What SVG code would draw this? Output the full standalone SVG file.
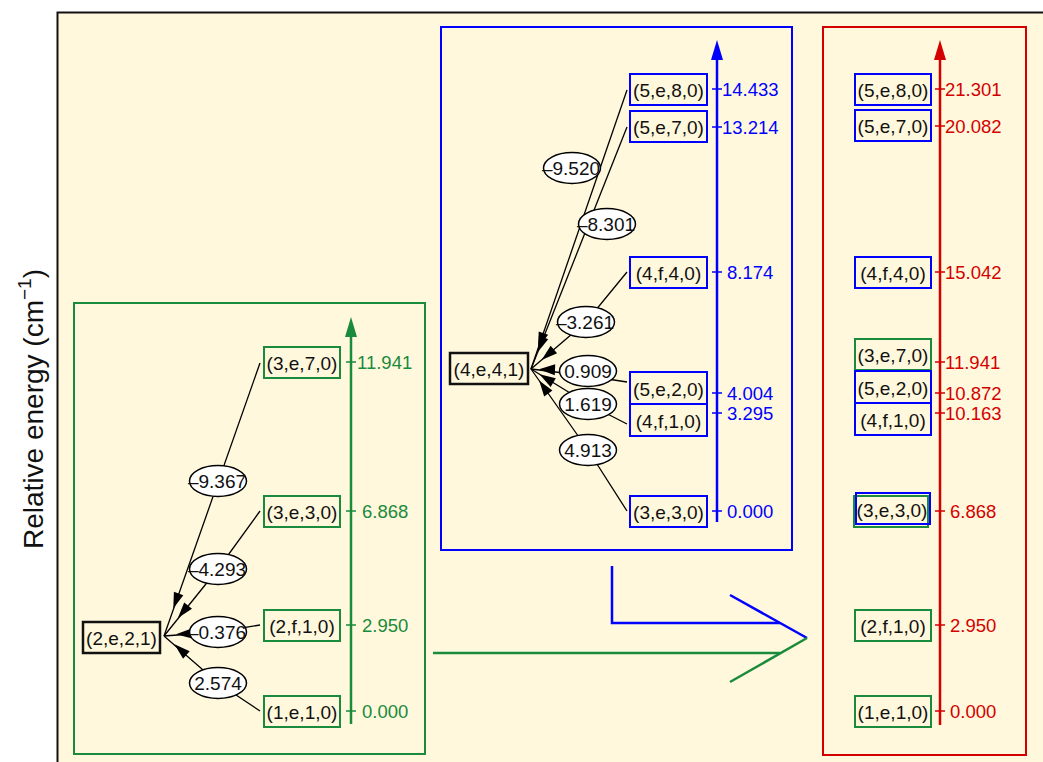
<svg xmlns="http://www.w3.org/2000/svg" width="1043" height="762" viewBox="0 0 1043 762">
<style>
.t{font-family:"Liberation Sans",Arial,Helvetica,sans-serif;font-size:19px;fill:#111;text-anchor:middle}
.tk{font-family:"Liberation Sans",Arial,Helvetica,sans-serif;font-size:18.5px}
.gs{stroke:#1a8a3c}.bs{stroke:#0000ff}.rs{stroke:#d40000}
.box{fill:none;stroke-width:2}
.blk{fill:none;stroke:#111;stroke-width:2.5}
.edge{fill:none;stroke:#000;stroke-width:1.3}
.lab{fill:#fff;stroke:#000;stroke-width:1.5}
.ah{fill:#000;stroke:none}
</style>
<rect x="0" y="0" width="1043" height="762" fill="#fff"/>
<rect x="57.5" y="12.5" width="990" height="760" fill="#fff8dc" stroke="#111" stroke-width="2"/>
<text class="t" style="font-size:28px" transform="translate(43,409) rotate(-90)">Relative energy (cm<tspan dy="-12" style="font-size:19px">−1</tspan><tspan dy="12">)</tspan></text>

<!-- panels -->
<g id="panel-green">
<rect x="74" y="303" width="351" height="451" class="box gs"/>
<line x1="351" y1="724" x2="351" y2="334" class="gs" stroke-width="2.5"/>
<polygon points="351,317 345,337 357,337" fill="#1a8a3c"/>
<g class="gs" stroke-width="1.5">
<line x1="346" y1="362" x2="356" y2="362"/><line x1="346" y1="511" x2="356" y2="511"/>
<line x1="346" y1="625" x2="356" y2="625"/><line x1="346" y1="711" x2="356" y2="711"/>
</g>
<g class="tk" fill="#1a8a3c">
<text x="357" y="368.5">11.941</text><text x="362" y="517.5">6.868</text>
<text x="362" y="631.5">2.950</text><text x="362" y="717.5">0.000</text>
</g>
</g>
<g id="panel-blue">
<rect x="441" y="27" width="351" height="523" class="box bs"/>
<line x1="717" y1="522" x2="717" y2="57" class="bs" stroke-width="2.5"/>
<polygon points="717,40 711,60 723,60" fill="#0000ff"/>
<g class="bs" stroke-width="1.5">
<line x1="712" y1="89" x2="722" y2="89"/><line x1="712" y1="127" x2="722" y2="127"/>
<line x1="712" y1="272" x2="722" y2="272"/><line x1="712" y1="393" x2="722" y2="393"/>
<line x1="712" y1="413" x2="722" y2="413"/><line x1="712" y1="511" x2="722" y2="511"/>
</g>
<g class="tk" fill="#0000ff">
<text x="722" y="95.5">14.433</text><text x="722" y="133.5">13.214</text>
<text x="727" y="278.5">8.174</text><text x="727" y="399.5">4.004</text>
<text x="727" y="419.5">3.295</text><text x="727" y="517.5">0.000</text>
</g>
</g>
<g id="panel-red">
<rect x="823" y="27" width="203" height="728" class="box rs"/>
<line x1="940" y1="725" x2="940" y2="57" class="rs" stroke-width="2.5"/>
<polygon points="940,40 934,60 946,60" fill="#d40000"/>
<g class="rs" stroke-width="1.5">
<line x1="935" y1="89" x2="945" y2="89"/><line x1="935" y1="126" x2="945" y2="126"/>
<line x1="935" y1="272" x2="945" y2="272"/><line x1="935" y1="362" x2="945" y2="362"/>
<line x1="935" y1="393" x2="945" y2="393"/><line x1="935" y1="413" x2="945" y2="413"/>
<line x1="935" y1="511" x2="945" y2="511"/><line x1="935" y1="625" x2="945" y2="625"/>
<line x1="935" y1="711" x2="945" y2="711"/>
</g>
<g class="tk" fill="#d40000">
<text x="945" y="95.5">21.301</text><text x="945" y="132.5">20.082</text>
<text x="945" y="278.5">15.042</text><text x="945" y="368.5">11.941</text>
<text x="945" y="399.5">10.872</text><text x="945" y="419.5">10.163</text>
<text x="950" y="517.5">6.868</text><text x="950" y="631.5">2.950</text>
<text x="950" y="717.5">0.000</text>
</g>
</g>

<!-- connectors -->
<g id="connectors">
<path class="edge" d="M260,363 L164,636"/>
<path class="edge" d="M260,511 L218,569 L164,636"/>
<path class="edge" d="M260,625 L218,632 L164,636"/>
<path class="edge" d="M260,711 L218,683 L164,636"/>
<polygon class="ah" points="173.3,608.6 183.3,595.2 173.9,591.8"/>
<polygon class="ah" points="177.9,618 192,608.8 184.2,602.4"/>
<polygon class="ah" points="176,634.3 192.2,638.5 191.6,628.5"/>
<polygon class="ah" points="174.5,644.3 183.1,658.7 189.7,651.3"/>

<path class="edge" d="M627,90 L531,369"/>
<path class="edge" d="M627,127 L531,369"/>
<path class="edge" d="M627,272 L586,322 L531,369"/>
<path class="edge" d="M627,382 L588,376 L531,369"/>
<path class="edge" d="M627,424 L588,404 L531,369"/>
<path class="edge" d="M627,511 L588,450 L531,369"/>
<polygon class="ah" points="538.2,348.2 548.1,334.7 538.7,331.5"/>
<polygon class="ah" points="537.6,352.3 548.2,339.2 538.9,335.6"/>
<polygon class="ah" points="541.6,359.9 557.1,353.3 550.6,345.7"/>
<polygon class="ah" points="539,369.3 554.8,375.3 555.2,364.3"/>
<polygon class="ah" points="539.5,374.2 550.6,386.9 555.8,378.3"/>
<polygon class="ah" points="539.1,380.5 544.2,396.4 552.4,390.6"/>

<g id="edge-labels">
<ellipse class="lab" cx="218" cy="481" rx="28.5" ry="15.5"/><text class="t" x="217" y="488">–9.367</text>
<ellipse class="lab" cx="218" cy="569" rx="28.5" ry="15.5"/><text class="t" x="217" y="576">–4.293</text>
<ellipse class="lab" cx="218" cy="632" rx="28.5" ry="15.5"/><text class="t" x="217" y="639">–0.376</text>
<ellipse class="lab" cx="218" cy="683" rx="28.5" ry="15.5"/><text class="t" x="218" y="690">2.574</text>
<ellipse class="lab" cx="572" cy="168" rx="28.5" ry="15.5"/><text class="t" x="571" y="175">–9.520</text>
<ellipse class="lab" cx="607" cy="224" rx="28.5" ry="15.5"/><text class="t" x="606" y="231">–8.301</text>
<ellipse class="lab" cx="586" cy="322" rx="28.5" ry="15.5"/><text class="t" x="585" y="329">–3.261</text>
<ellipse class="lab" cx="588" cy="371" rx="28.5" ry="15.5"/><text class="t" x="588" y="378">0.909</text>
<ellipse class="lab" cx="588" cy="404" rx="28.5" ry="15.5"/><text class="t" x="588" y="411">1.619</text>
<ellipse class="lab" cx="588" cy="450" rx="28.5" ry="15.5"/><text class="t" x="588" y="457">4.913</text>
</g>

<g id="transfer-arrows" fill="none" stroke-width="2.5">
<polyline points="612,566 612,623 780,623" stroke="#0000ff"/>
<line x1="730" y1="595" x2="807" y2="638" stroke="#0000ff"/>
<line x1="433" y1="653" x2="780" y2="653" stroke="#1a8a3c"/>
<line x1="807" y1="638" x2="730" y2="682" stroke="#1a8a3c"/>
</g>
</g>

<!-- nodes: left panel -->
<g id="n-2e21"><rect x="83" y="622" width="77" height="31" class="blk"/><text class="t" x="121.5" y="644.5">(2,e,2,1)</text></g>
<g id="L-3e70"><rect x="264" y="347" width="76" height="31" class="box gs"/><text class="t" x="302" y="369.5">(3,e,7,0)</text></g>
<g id="L-3e30"><rect x="264" y="496" width="76" height="31" class="box gs"/><text class="t" x="302" y="518.5">(3,e,3,0)</text></g>
<g id="L-2f10"><rect x="264" y="610" width="76" height="31" class="box gs"/><text class="t" x="302" y="632.5">(2,f,1,0)</text></g>
<g id="L-1e10"><rect x="264" y="696" width="76" height="31" class="box gs"/><text class="t" x="302" y="718.5">(1,e,1,0)</text></g>

<!-- nodes: middle panel -->
<g id="n-4e41"><rect x="450" y="353" width="78" height="31" class="blk"/><text class="t" x="489" y="375.5">(4,e,4,1)</text></g>
<g id="M-5e80"><rect x="630" y="74" width="77" height="31" class="box bs"/><text class="t" x="668.5" y="96.5">(5,e,8,0)</text></g>
<g id="M-5e70"><rect x="630" y="111" width="77" height="31" class="box bs"/><text class="t" x="668.5" y="133.5">(5,e,7,0)</text></g>
<g id="M-4f40"><rect x="630" y="257" width="77" height="31" class="box bs"/><text class="t" x="668.5" y="279.5">(4,f,4,0)</text></g>
<g id="M-5e20"><rect x="630" y="372" width="77" height="32" class="box bs"/><text class="t" x="668.5" y="395.5">(5,e,2,0)</text></g>
<g id="M-4f10"><rect x="630" y="404" width="77" height="32" class="box bs"/><text class="t" x="668.5" y="427.5">(4,f,1,0)</text></g>
<g id="M-3e30"><rect x="630" y="496" width="77" height="31" class="box bs"/><text class="t" x="668.5" y="518.5">(3,e,3,0)</text></g>

<!-- nodes: right panel -->
<g id="R-5e80"><rect x="855" y="74" width="76" height="31" class="box bs"/><text class="t" x="893" y="96.5">(5,e,8,0)</text></g>
<g id="R-5e70"><rect x="855" y="110" width="76" height="31" class="box bs"/><text class="t" x="893" y="132.5">(5,e,7,0)</text></g>
<g id="R-4f40"><rect x="855" y="257" width="76" height="31" class="box bs"/><text class="t" x="893" y="279.5">(4,f,4,0)</text></g>
<g id="R-3e70"><rect x="855" y="339" width="76" height="31" class="box gs"/><text class="t" x="893" y="361.5">(3,e,7,0)</text></g>
<g id="R-5e20"><rect x="855" y="371" width="76" height="32" class="box bs"/><text class="t" x="893" y="394.5">(5,e,2,0)</text></g>
<g id="R-4f10"><rect x="855" y="403" width="76" height="32" class="box bs"/><text class="t" x="893" y="426.5">(4,f,1,0)</text></g>
<g id="R-3e30"><rect x="854" y="496" width="74" height="31" class="box gs"/><rect x="856" y="493" width="74" height="31" class="box bs"/><text class="t" x="892" y="517">(3,e,3,0)</text></g>
<g id="R-2f10"><rect x="855" y="610" width="76" height="31" class="box gs"/><text class="t" x="893" y="632.5">(2,f,1,0)</text></g>
<g id="R-1e10"><rect x="855" y="696" width="76" height="31" class="box gs"/><text class="t" x="893" y="718.5">(1,e,1,0)</text></g>
</svg>
